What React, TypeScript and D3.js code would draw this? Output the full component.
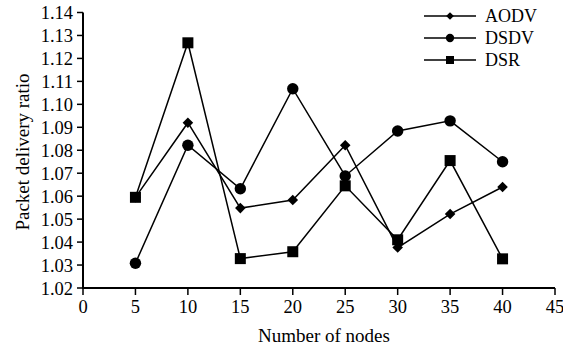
import * as d3 from "d3";

const nodes = [5, 10, 15, 20, 25, 30, 35, 40];
const aodv = [1.0595, 1.0920, 1.0548, 1.0583, 1.0822, 1.0376, 1.0522, 1.0640];
const dsdv = [1.0308, 1.0822, 1.0632, 1.1068, 1.0688, 1.0884, 1.0928, 1.0750];
const dsr = [1.0595, 1.1268, 1.0328, 1.0358, 1.0645, 1.0410, 1.0755, 1.0327];
const xTicks = [0, 5, 10, 15, 20, 25, 30, 35, 40, 45];
const yTicks = d3.range(0, 13).map((i) => +(1.02 + i * 0.01).toFixed(2));

const series = [
  { name: "AODV", values: aodv, shape: "diamond" },
  { name: "DSDV", values: dsdv, shape: "circle" },
  { name: "DSR", values: dsr, shape: "square" },
];

const W = 563;
const H = 350;
const left = 83;
const right = 555;
const top = 12.5;
const bottom = 288;
const font = "'Liberation Serif', 'Times New Roman', serif";

function Marker({ shape, x, y, s }: { shape: string; x: number; y: number; s: number }) {
  if (shape === "circle") return <circle cx={x} cy={y} r={s * 0.52} fill="#000" />;
  if (shape === "square")
    return <rect x={x - s / 2} y={y - s / 2} width={s} height={s} fill="#000" />;
  const h = s * 0.48;
  return (
    <path d={`M${x},${y - h}L${x + h},${y}L${x},${y + h}L${x - h},${y}Z`} fill="#000" />
  );
}

export default function App() {
  const x = d3.scaleLinear().domain([0, 45]).range([left, right]);
  const y = d3.scaleLinear().domain([1.02, 1.14]).range([bottom, top]);
  const line = d3
    .line<number>()
    .x((_, i) => x(nodes[i]))
    .y((d) => y(d));

  return (
    <svg
      width={W}
      height={H}
      style={{ position: "absolute", left: 0, top: 0, background: "#fff" }}
      fontFamily={font}
    >
      {/* axes */}
      <line x1={left} x2={left} y1={top} y2={bottom + 1} stroke="#000" strokeWidth={2} />
      <line x1={left - 1} x2={right} y1={bottom} y2={bottom} stroke="#000" strokeWidth={2} />
      {yTicks.map((t) => (
        <g key={t}>
          <line x1={left - 6} x2={left} y1={y(t)} y2={y(t)} stroke="#000" strokeWidth={1.5} />
          <text x={left - 10} y={y(t)} dy="0.36em" textAnchor="end" fontSize={18.5}>
            {t.toFixed(2)}
          </text>
        </g>
      ))}
      {xTicks.map((t) => (
        <g key={t}>
          <line x1={x(t)} x2={x(t)} y1={bottom} y2={bottom + 7} stroke="#000" strokeWidth={1.5} />
          <text x={x(t)} y={313} textAnchor="middle" fontSize={18.5}>
            {t}
          </text>
        </g>
      ))}
      <text x={324} y={342} textAnchor="middle" fontSize={19}>
        Number of nodes
      </text>
      <text
        transform={`translate(29,152) rotate(-90)`}
        textAnchor="middle"
        fontSize={19}
      >
        Packet delivery ratio
      </text>

      {/* series */}
      {series.map((s) => (
        <g key={s.name}>
          <path d={line(s.values) || ""} fill="none" stroke="#000" strokeWidth={1.5} />
          {s.values.map((v, i) => (
            <Marker key={i} shape={s.shape} x={x(nodes[i])} y={y(v)} s={11} />
          ))}
        </g>
      ))}

      {/* legend */}
      {series.map((s, i) => {
        const ly = 16 + i * 22;
        return (
          <g key={s.name}>
            <line x1={424} x2={476} y1={ly} y2={ly} stroke="#000" strokeWidth={1.5} />
            <Marker shape={s.shape} x={450} y={ly} s={8} />
            <text x={485} y={ly} dy="0.36em" fontSize={18}>
              {s.name}
            </text>
          </g>
        );
      })}
    </svg>
  );
}
